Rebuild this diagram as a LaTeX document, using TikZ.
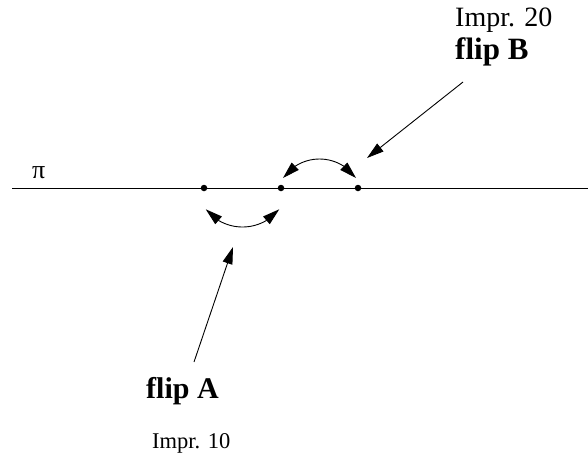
\documentclass[tikz,border=0pt]{standalone}
\usepackage{fontspec}
\setmainfont{Liberation Serif}
\usetikzlibrary{arrows.meta,calc}
\begin{document}
\begin{tikzpicture}[x=1pt,y=-1pt,
  dotnode/.style={circle,fill=black,inner sep=0pt,minimum size=6.5pt},
  txt/.style={anchor=base west,inner sep=0pt},
  ln/.style={line width=0.9pt},
  arr/.style={line width=0.9pt,-{Triangle[length=17pt,width=10pt]}}]
\useasboundingbox (0,0) rectangle (588,456);
\coordinate (L0) at (12,188);
\coordinate (L1) at (588,188);
\draw[ln] (L0) -- (L1);
\node[dotnode] (d1) at (204,188) {};
\node[dotnode] (d2) at (281,188) {};
\node[dotnode] (d3) at (358,188) {};
\node[txt] (pi) at (32,178) {\fontsize{26}{28}\selectfont π};
% lower arc (flip A)
\coordinate (cA) at (242.5,180);
\coordinate (a1) at ($(cA)+(141.5:47)$);
\coordinate (a1b) at ($(cA)+(120:47)$);
\coordinate (a2) at ($(cA)+(38.5:47)$);
\coordinate (a2b) at ($(cA)+(60:47)$);
\draw[ln] (a1b) arc[start angle=120,end angle=60,radius=47];
\draw[arr] (a1b) -- (a1);
\draw[arr] (a2b) -- (a2);
% upper arc (flip B)
\coordinate (cB) at (319.5,203.6);
\coordinate (b1) at ($(cB)+(215:44.6)$);
\coordinate (b1b) at ($(cB)+(237:44.6)$);
\coordinate (b2) at ($(cB)+(325:44.6)$);
\coordinate (b2b) at ($(cB)+(303:44.6)$);
\draw[ln] (b1b) arc[start angle=237,end angle=303,radius=44.6];
\draw[arr] (b1b) -- (b1);
\draw[arr] (b2b) -- (b2);
% labels
\node[txt] (i20) at (455,26) {\fontsize{28}{30}\selectfont Impr. 20};
\node[txt] (fB) at (455,59) {\fontsize{31}{34}\selectfont\bfseries flip B};
\node[txt] (fA) at (146,398) {\fontsize{30}{33}\selectfont\bfseries flip A};
\node[txt] (i10) at (152,448) {\fontsize{22.5}{25}\selectfont Impr. 10};
\coordinate (sB) at (463,82);
\coordinate (tB) at (367,158);
\coordinate (sA) at (194,362);
\coordinate (tA) at (233,247);
\draw[arr] (sB) -- (tB);
\draw[arr] (sA) -- (tA);
\end{tikzpicture}
\end{document}
